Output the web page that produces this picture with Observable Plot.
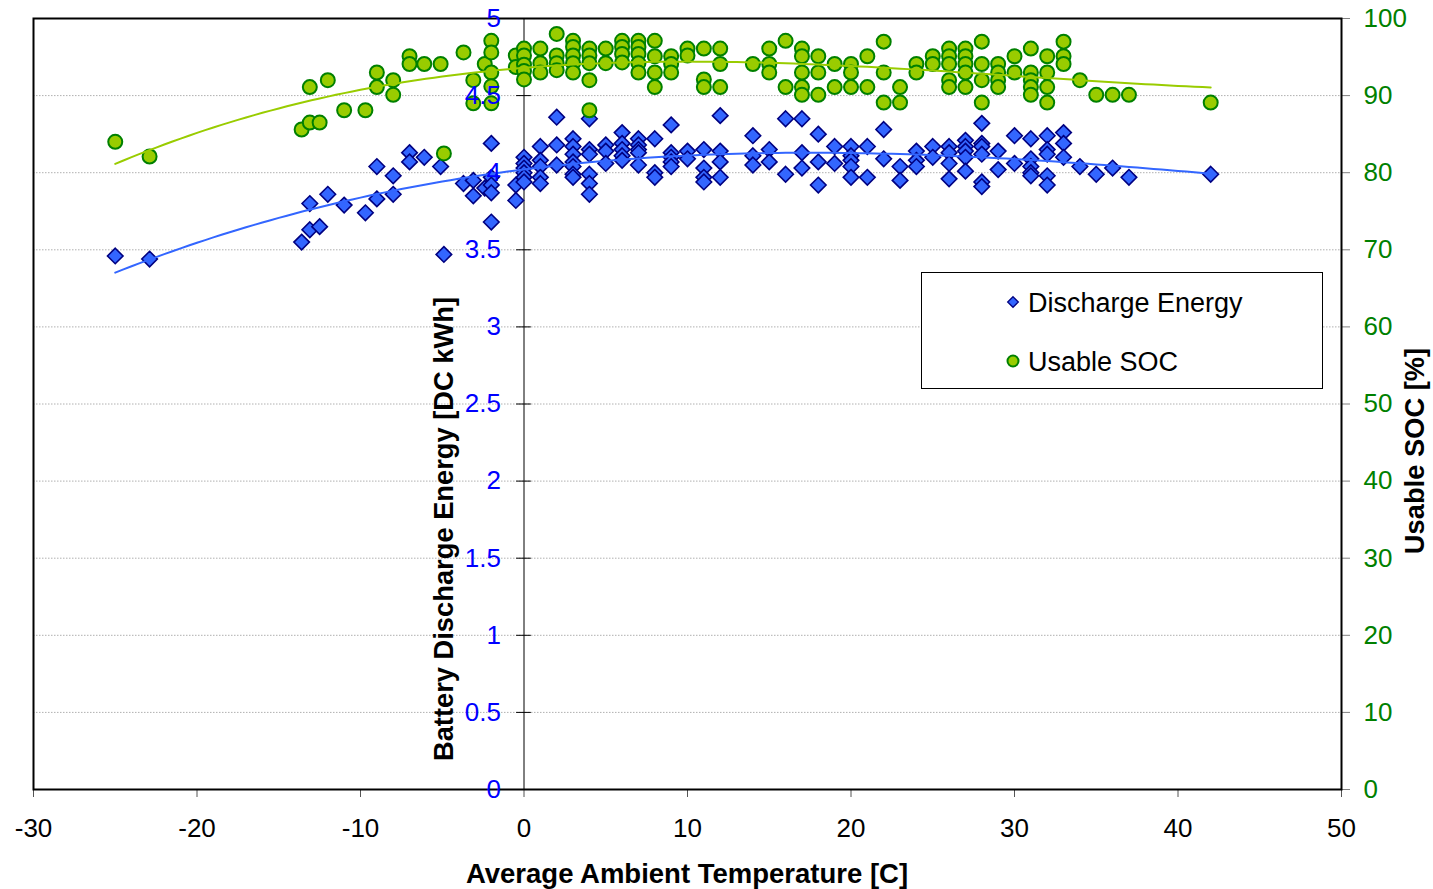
<!DOCTYPE html>
<html><head><meta charset="utf-8">
<script src="https://cdn.jsdelivr.net/npm/d3@7"></script>
<script src="https://cdn.jsdelivr.net/npm/@observablehq/plot@0.6"></script>
<style>
html,body{margin:0;padding:0;background:#fff;}
#chart{position:relative;width:1433px;height:889px;}
</style></head>
<body><div id="chart"></div>
<script>
// Temperature ticks, left (energy) ticks, right (SOC) ticks
const xTicks = [-30, -20, -10, 0, 10, 20, 30, 40, 50];
const energyTicks = [0, 0.5, 1, 1.5, 2, 2.5, 3, 3.5, 4, 4.5, 5];
const socTicks = [0, 10, 20, 30, 40, 50, 60, 70, 80, 90, 100];

// Discharge energy [DC kWh]: temperature -> readings
const energyByTemp = [
  [-25, [3.46]], [-22.9, [3.44]], [-13.6, [3.55]], [-13.1, [3.63, 3.80]], [-12.5, [3.65]],
  [-12, [3.86]], [-11, [3.79]], [-9.7, [3.74]], [-9, [3.83, 4.04]], [-8, [3.86, 3.98]],
  [-7, [4.13, 4.07]], [-6.1, [4.10]], [-5.1, [4.04]], [-4.9, [3.47]], [-3.7, [3.93]],
  [-3.1, [3.95, 3.85]], [-2.4, [3.90]], [-2, [4.19, 3.97, 3.92, 3.87, 3.68]], [-0.5, [3.92, 3.82]],
  [0, [4.10, 4.06, 4.03, 4.00, 3.97, 3.94]], [1, [4.17, 4.08, 4.04, 3.97, 3.93]], [2, [4.36, 4.18, 4.05]],
  [3, [4.22, 4.17, 4.12, 4.07, 4.04, 3.99, 3.97]], [4, [4.35, 4.15, 4.12, 3.99, 3.93, 3.86]],
  [5, [4.18, 4.14, 4.06]], [6, [4.26, 4.19, 4.15, 4.11, 4.08]], [7, [4.22, 4.18, 4.15, 4.13, 4.05]],
  [8, [4.22, 4.00, 3.97]], [9, [4.31, 4.13, 4.10, 4.07, 4.04]], [10, [4.14, 4.09]],
  [11, [4.15, 4.03, 3.97, 3.94]], [12, [4.37, 4.14, 4.07, 3.97]], [14, [4.24, 4.11, 4.05]],
  [15, [4.15, 4.07]], [16, [4.35, 3.99]], [17, [4.35, 4.13, 4.03]], [18, [4.25, 4.07, 3.92]],
  [19, [4.17, 4.06]], [20, [4.17, 4.11, 4.08, 4.04, 3.97]], [21, [4.17, 3.97]], [22, [4.28, 4.09]],
  [23, [4.04, 3.95]], [24, [4.14, 4.08, 4.04]], [25, [4.17, 4.10]], [26, [4.17, 4.13, 4.06, 3.96]],
  [27, [4.21, 4.17, 4.14, 4.10, 4.01]], [28, [4.32, 4.19, 4.17, 4.12, 3.94, 3.91]], [29, [4.14, 4.02]],
  [30, [4.24, 4.06]], [31, [4.22, 4.09, 4.04, 4.00, 3.98]], [32, [4.24, 4.15, 4.12, 3.98, 3.92]],
  [33, [4.26, 4.19, 4.10]], [34, [4.04]], [35, [3.99]], [36, [4.03]], [37, [3.97]], [42, [3.99]]
];

// Usable SOC [%]: temperature -> readings
const socByTemp = [
  [-25, [84.0]], [-22.9, [82.1]], [-13.6, [85.6]], [-13.1, [86.5, 91.1]], [-12.5, [86.5]],
  [-12, [92.0]], [-11, [88.1]], [-9.7, [88.1]], [-9, [93.0, 91.1]], [-8, [92.0, 90.1]],
  [-7, [95.1, 94.1]], [-6.1, [94.1]], [-5.1, [94.1]], [-4.9, [82.5]], [-3.7, [95.6]],
  [-3.1, [92.0, 89.0]], [-2.4, [94.1]], [-2, [97.1, 95.6, 93.0, 91.2, 89.0]], [-0.5, [95.2, 93.7]],
  [0, [96.1, 95.2, 94.0, 93.2, 92.1]], [1, [96.1, 94.2, 93.0]], [2, [98.0, 95.2, 94.2, 93.3]],
  [3, [97.1, 96.3, 95.2, 94.2, 93.0]], [4, [96.1, 95.2, 94.2, 92.0, 88.1]], [5, [96.1, 94.2]],
  [6, [97.1, 96.3, 95.4, 94.3]], [7, [97.1, 96.3, 95.4, 94.2, 93.0]], [8, [97.1, 95.1, 93.0, 91.1]],
  [9, [95.1, 94.1, 93.0]], [10, [96.1, 95.2]], [11, [96.1, 92.1, 91.1]], [12, [96.1, 94.1, 91.1]],
  [14, [94.1]], [15, [96.1, 94.1, 93.0]], [16, [97.1, 91.1]], [17, [96.1, 95.1, 93.0, 91.1, 90.1]],
  [18, [95.1, 93.0, 90.1]], [19, [94.1, 91.1]], [20, [94.1, 93.0, 91.1]], [21, [95.1, 91.1]],
  [22, [97.0, 93.0, 89.1]], [23, [91.1, 89.1]], [24, [94.1, 93.0]], [25, [95.1, 94.1]],
  [26, [96.1, 95.1, 94.1, 92.0, 91.1]], [27, [96.1, 95.1, 94.1, 93.0, 91.1]], [28, [97.0, 94.1, 92.0, 89.1]],
  [29, [94.1, 93.0, 92.0, 91.1]], [30, [95.1, 93.0]], [31, [96.1, 93.0, 92.0, 91.1, 90.1]],
  [32, [95.1, 93.0, 91.1, 89.1]], [33, [97.0, 95.1, 94.1]], [34, [92.0]], [35, [90.1]], [36, [90.1]],
  [37, [90.1]], [42, [89.1]]
];

const seriesNames = ["Discharge Energy", "Usable SOC"];
const socPerEnergyUnit = 20; // right axis 0-100 maps onto left axis 0-5

const energy = energyByTemp.flatMap(([t, vs]) => vs.map(v => ({t, v})));
const soc = socByTemp.flatMap(([t, vs]) => vs.map(v => ({t, v})));

// cubic least-squares trendline (like a spreadsheet polynomial trendline)
function polyFit(pts, deg) {
  const n = deg + 1;
  const A = Array.from({length: n}, () => new Array(n + 1).fill(0));
  for (const {t, v} of pts) {
    for (let i = 0; i < n; i++) {
      for (let j = 0; j < n; j++) A[i][j] += Math.pow(t, i + j);
      A[i][n] += v * Math.pow(t, i);
    }
  }
  for (let c = 0; c < n; c++) {
    let p = c;
    for (let r = c + 1; r < n; r++) if (Math.abs(A[r][c]) > Math.abs(A[p][c])) p = r;
    [A[c], A[p]] = [A[p], A[c]];
    for (let r = 0; r < n; r++) {
      if (r === c) continue;
      const f = A[r][c] / A[c][c];
      for (let k = c; k <= n; k++) A[r][k] -= f * A[c][k];
    }
  }
  const coef = A.map((row, i) => row[n] / row[i]);
  return t => coef.reduce((s, c, i) => s + c * Math.pow(t, i), 0);
}
const tMin = d3.min(energy, d => d.t), tMax = d3.max(energy, d => d.t);
const fitE = polyFit(energy, 3), fitS = polyFit(soc, 3);
const tGrid = d3.range(tMin, tMax + 0.01, 0.5);
const trendE = tGrid.map(t => ({t, v: fitE(t)}));
const trendS = tGrid.map(t => ({t, v: fitS(t)}));

const FONT = '"Liberation Sans", Arial, sans-serif';
const plot = Plot.plot({
  width: 1433, height: 889,
  marginLeft: 33, marginRight: 92, marginTop: 18, marginBottom: 100,
  style: {fontFamily: FONT, background: "#fff", overflow: "visible"},
  x: {domain: [-30, 50]},
  y: {domain: [0, 5]},
  marks: [
    Plot.ruleY(energyTicks.filter(d => d > 0 && d < 5), {stroke: "#b0b0b0", strokeDasharray: "1.5,1.5", strokeWidth: 1}),
    Plot.ruleX([0], {stroke: "#000", strokeWidth: 1}),
    Plot.ruleY(energyTicks, {x1: () => -0.45, x2: () => 0.45, stroke: "#000", strokeWidth: 1}),
    Plot.axisX(xTicks, {tickSize: 8, tickPadding: 21, fontSize: 26, tickFormat: d => String(d), label: null, stroke: "#555", fill: "#000"}),
    Plot.axisY(socTicks.map(d => d / socPerEnergyUnit), {anchor: "right", tickSize: 8, tickPadding: 14, fontSize: 26, tickFormat: d => String(Math.round(d * socPerEnergyUnit)), label: null, stroke: "#808080", fill: "#008000"}),
    Plot.frame({stroke: "#000", strokeWidth: 2}),
    Plot.dot(energy, {x: "t", y: "v", symbol: "diamond2", r: 7, fill: "#3366ff", stroke: "#000080", strokeWidth: 1.6}),
    Plot.dot(soc, {x: "t", y: d => d.v / socPerEnergyUnit, r: 7, fill: "#99cc00", stroke: "#008000", strokeWidth: 2}),
    Plot.line(trendE, {x: "t", y: "v", stroke: "#3366ff", strokeWidth: 2}),
    Plot.line(trendS, {x: "t", y: d => d.v / socPerEnergyUnit, stroke: "#99cc00", strokeWidth: 2}),
    Plot.text(energyTicks, {x: () => 0, y: d => d, text: d => String(d), textAnchor: "end", dx: -23, fill: "#0000ff", fontSize: 26})
  ]
});
document.getElementById("chart").appendChild(plot);

// axis titles and legend
const svg = d3.select(plot);
svg.append("text").attr("x", 687).attr("y", 883).attr("text-anchor", "middle")
  .attr("font-family", FONT).attr("font-weight", "bold").attr("font-size", 27.5).attr("fill", "#000")
  .text("Average Ambient Temperature [C]");
svg.append("text").attr("transform", "translate(453,529) rotate(-90)").attr("text-anchor", "middle")
  .attr("font-family", FONT).attr("font-weight", "bold").attr("font-size", 27.3).attr("fill", "#000")
  .text("Battery Discharge Energy [DC kWh]");
svg.append("text").attr("transform", "translate(1424,451) rotate(-90)").attr("text-anchor", "middle")
  .attr("font-family", FONT).attr("font-weight", "bold").attr("font-size", 27.3).attr("fill", "#000")
  .text("Usable SOC [%]");

const lg = svg.append("g");
lg.append("rect").attr("x", 921.5).attr("y", 272.5).attr("width", 401).attr("height", 116)
  .attr("fill", "#fff").attr("stroke", "#000").attr("stroke-width", 1);
lg.append("path").attr("transform", "translate(1013,302)")
  .attr("d", d3.symbol(d3.symbolDiamond2, Math.PI * 4.8 * 4.8)())
  .attr("fill", "#3366ff").attr("stroke", "#000080").attr("stroke-width", 1.3);
lg.append("circle").attr("cx", 1013).attr("cy", 361).attr("r", 5.5)
  .attr("fill", "#99cc00").attr("stroke", "#008000").attr("stroke-width", 2);
lg.selectAll("text.lbl").data(seriesNames).join("text").attr("class", "lbl")
  .attr("x", 1028).attr("y", (d, i) => i === 0 ? 311.5 : 370.5).attr("text-anchor", "start")
  .attr("font-family", FONT).attr("font-size", 27).attr("fill", "#000").text(d => d);
</script></body></html>
